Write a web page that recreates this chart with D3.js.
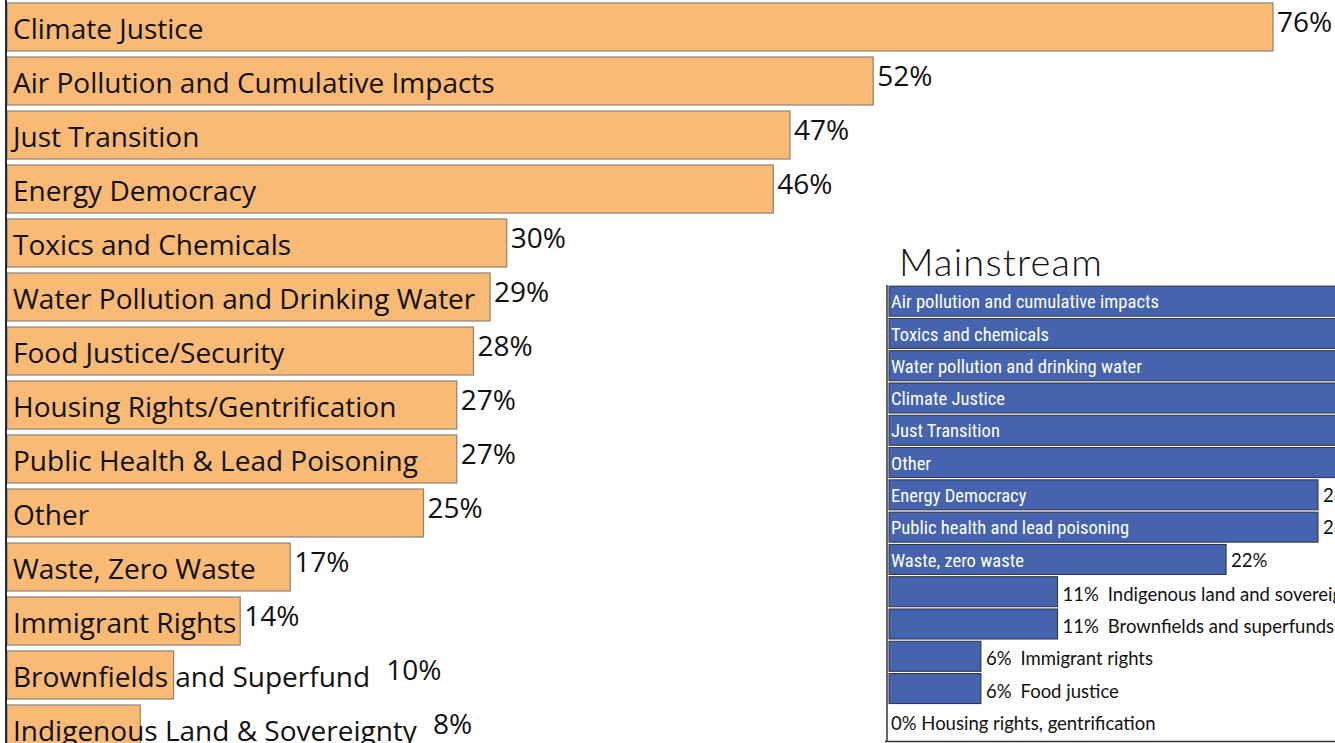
<!DOCTYPE html>
<html>
<head>
<meta charset="utf-8">
<script src="https://cdn.jsdelivr.net/npm/d3@7"></script>
<style>
  html, body { margin: 0; padding: 0; background: #fff; overflow: hidden; }
  svg { display: block; }
</style>
</head>
<body>
<svg id="chart" width="1335" height="743"></svg>
<script>
// ---- Main chart data ----
const categories = [
  "Climate Justice",
  "Air Pollution and Cumulative Impacts",
  "Just Transition",
  "Energy Democracy",
  "Toxics and Chemicals",
  "Water Pollution and Drinking Water",
  "Food Justice/Security",
  "Housing Rights/Gentrification",
  "Public Health & Lead Poisoning",
  "Other",
  "Waste, Zero Waste",
  "Immigrant Rights",
  "Brownfields and Superfund",
  "Indigenous Land & Sovereignty"
];
const values = [76, 52, 47, 46, 30, 29, 28, 27, 27, 25, 17, 14, 10, 8];

// ---- Inset "Mainstream" data ----
const msTitle = "Mainstream";
const msCategories = [
  "Air pollution and cumulative impacts",
  "Toxics and chemicals",
  "Water pollution and drinking water",
  "Climate Justice",
  "Just Transition",
  "Other",
  "Energy Democracy",
  "Public health and lead poisoning",
  "Waste, zero waste",
  "Indigenous land and sovereignty",
  "Brownfields and superfunds",
  "Immigrant rights",
  "Food justice",
  "Housing rights, gentrification"
];
const msValues = [61, 56, 50, 44, 39, 33, 28, 28, 22, 11, 11, 6, 6, 0];

const svg = d3.select("#chart");
const fmt = v => v + "%";

// ---------- main chart ----------
const x = d3.scaleLinear().domain([0, 76]).range([7, 1273]);
const y = d3.scaleBand().domain(categories).range([0, 756]).paddingInner(0.111).paddingOuter(0.0556);

const main = svg.append("g");
const rows = main.selectAll("g.row").data(categories).join("g").attr("class", "row");

rows.append("rect")
  .attr("x", x(0))
  .attr("y", d => y(d))
  .attr("width", (d, i) => x(values[i]) - x(0))
  .attr("height", y.bandwidth())
  .attr("fill", "#F8BA74")
  .attr("stroke", "#8a8278")
  .attr("stroke-width", 1.2);

rows.append("text")
  .attr("x", 13)
  .attr("y", d => y(d) + y.bandwidth() * 0.74)
  .attr("font-family", "'Open Sans', sans-serif")
  .attr("font-size", 28)
  .attr("fill", "#111")
  .text(d => d);

rows.each(function(d, i) {
  const g = d3.select(this);
  const tw = g.select("text").node().getComputedTextLength();
  const barEnd = x(values[i]);
  const textEnd = 13 + tw;
  const vx = textEnd > barEnd ? textEnd + 16 : barEnd + 4;
  g.append("text")
    .attr("x", vx)
    .attr("y", y(d) + y.bandwidth() * 0.6)
    .attr("font-family", "'Open Sans', sans-serif")
    .attr("font-size", 28)
    .attr("fill", "#111")
    .text(fmt(values[i]));
});

// left axis line
main.append("line")
  .attr("x1", 6).attr("x2", 6).attr("y1", 0).attr("y2", 743)
  .attr("stroke", "#2a2a2a").attr("stroke-width", 2);

// ---------- inset chart ----------
const xs = d3.scaleLinear().domain([0, 28]).range([889, 1318]);
const ys = d3.scaleBand().domain(msCategories).range([285, 737]).paddingInner(0.07).paddingOuter(0.035);

const inset = svg.append("g");

inset.append("text")
  .attr("x", 899).attr("y", 276)
  .attr("font-family", "Lato, sans-serif")
  .attr("font-weight", 300)
  .attr("font-size", 38)
  .attr("letter-spacing", 1.2)
  .attr("fill", "#111")
  .text(msTitle);

const mrows = inset.selectAll("g.mrow").data(msCategories).join("g").attr("class", "mrow");

mrows.filter((d, i) => msValues[i] > 0).append("rect")
  .attr("x", xs(0))
  .attr("y", d => ys(d))
  .attr("width", d => xs(msValues[msCategories.indexOf(d)]) - xs(0))
  .attr("height", ys.bandwidth())
  .attr("fill", "#4563AE")
  .attr("stroke", "#2f2f3a")
  .attr("stroke-width", 1);

const narrow = "'Roboto Condensed', 'Liberation Sans Narrow', 'Open Sans', sans-serif";
const plain = "Lato, 'Open Sans', sans-serif";

mrows.each(function(d, i) {
  const g = d3.select(this);
  const v = msValues[i];
  const by = ys(d) + ys.bandwidth() * 0.74;
  if (v >= 20) {
    g.append("text")
      .attr("x", 891).attr("y", by)
      .attr("font-family", narrow)
      .attr("font-size", 18.6)
      .attr("fill", "#fff")
      .text(d);
    g.append("text")
      .attr("x", xs(v) + 5).attr("y", by)
      .attr("font-family", plain)
      .attr("font-size", 18.5)
      .attr("fill", "#111")
      .text(fmt(v));
  } else if (v > 0) {
    const t = g.append("text")
      .attr("x", xs(v) + 5).attr("y", by + 2)
      .attr("font-family", plain)
      .attr("font-size", 18.5)
      .attr("fill", "#111");
    t.append("tspan").text(fmt(v));
    t.append("tspan").attr("dx", 9).text(d);
  } else {
    g.append("text")
      .attr("x", 891).attr("y", by + 2)
      .attr("font-family", plain)
      .attr("font-size", 18.5)
      .attr("fill", "#111")
      .text(fmt(v) + " " + d);
  }
});

// inset frame
inset.append("line")
  .attr("x1", 887).attr("x2", 887).attr("y1", 285).attr("y2", 742)
  .attr("stroke", "#333").attr("stroke-width", 1.5);
inset.append("line")
  .attr("x1", 885).attr("x2", 1335).attr("y1", 741.5).attr("y2", 741.5)
  .attr("stroke", "#333").attr("stroke-width", 1.5);
</script>
</body>
</html>
